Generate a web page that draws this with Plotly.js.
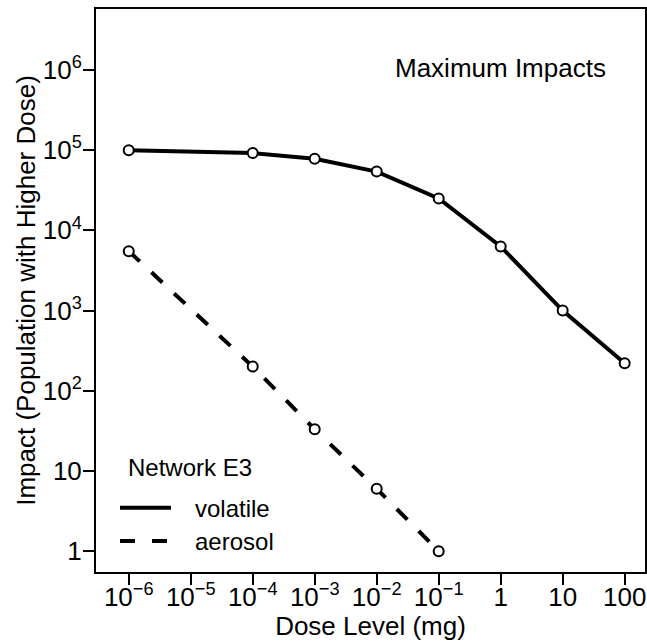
<!DOCTYPE html>
<html>
<head>
<meta charset="utf-8">
<script src="https://cdn.plot.ly/plotly-3.0.1.min.js"></script>
<style>
  html, body { margin: 0; padding: 0; background: #fff; }
  #chart { width: 647px; height: 641px; }
</style>
</head>
<body>
<div id="chart"></div>
<script>
// Dose levels (mg) and population impacts for network E3
const volatileDose = [1e-6, 1e-4, 1e-3, 1e-2, 1e-1, 1, 10, 100];
const volatileImpact = [100000, 92000, 78000, 54000, 25000, 6300, 1000, 220];

const aerosolDose = [1e-6, 1e-4, 1e-3, 1e-2, 1e-1];
const aerosolImpact = [5500, 200, 33, 6, 1];

const xTickVals = [1e-6, 1e-5, 1e-4, 1e-3, 1e-2, 1e-1, 1, 10, 100];
const xTickText = ['10<sup>\u22126</sup>', '10<sup>\u22125</sup>', '10<sup>\u22124</sup>',
                   '10<sup>\u22123</sup>', '10<sup>\u22122</sup>', '10<sup>\u22121</sup>',
                   '1', '10', '100'];
const yTickVals = [1, 10, 100, 1000, 10000, 100000, 1000000];
const yTickText = ['1', '10', '10<sup>2</sup>', '10<sup>3</sup>', '10<sup>4</sup>',
                   '10<sup>5</sup>', '10<sup>6</sup>'];

const seriesNames = ['volatile', 'aerosol'];
const legendTitle = 'Network E3';
const panelTitle = 'Maximum Impacts';

const FONT = 'Liberation Sans, Arial, Helvetica, sans-serif';
const marker = { symbol: 'circle', size: 10, color: '#ffffff', line: { color: '#000000', width: 2 } };

const traces = [
  {
    x: volatileDose, y: volatileImpact, name: seriesNames[0],
    type: 'scatter', mode: 'lines+markers',
    line: { color: '#000000', width: 4 },
    marker: marker, showlegend: false
  },
  {
    x: aerosolDose, y: aerosolImpact, name: seriesNames[1],
    type: 'scatter', mode: 'lines+markers',
    line: { color: '#000000', width: 4, dash: '15px,16px' },
    marker: marker, showlegend: false
  }
];

// Plot box: 96..645 px horizontally, 9..572 px vertically
const L = 96, T = 9, W = 549, H = 563;
const px = v => (v - L) / W;
const py = v => (T + H - v) / H;

const axisCommon = {
  type: 'log',
  showgrid: false, zeroline: false,
  showline: true, mirror: true, linecolor: '#000000', linewidth: 2,
  ticks: 'outside', ticklen: 11, tickwidth: 2, tickcolor: '#000000',
  tickmode: 'array',
  tickfont: { family: FONT, size: 26, color: '#000000' }
};

const layout = {
  width: 647, height: 641,
  margin: { l: L, r: 647 - L - W, t: T, b: 641 - T - H, pad: 0 },
  paper_bgcolor: '#ffffff', plot_bgcolor: '#ffffff',
  showlegend: false,
  xaxis: Object.assign({}, axisCommon, {
    range: [-6.528, 2.328],
    tickvals: xTickVals, ticktext: xTickText,
    ticklabelstandoff: -10,
    title: { text: 'Dose Level (mg)', font: { family: FONT, size: 26, color: '#000000' }, standoff: 0 }
  }),
  yaxis: Object.assign({}, axisCommon, {
    range: [-0.26, 6.76],
    tickvals: yTickVals, ticktext: yTickText,
    ticklabelstandoff: -4,
    title: { text: 'Impact (Population with Higher Dose)', font: { family: FONT, size: 26, color: '#000000' }, standoff: 0 }
  }),
  shapes: [
    { type: 'line', xref: 'paper', yref: 'paper', x0: px(120), x1: px(171), y0: py(507.7), y1: py(507.7),
      line: { color: '#000000', width: 4 } },
    { type: 'line', xref: 'paper', yref: 'paper', x0: px(120), x1: px(167), y0: py(541), y1: py(541),
      line: { color: '#000000', width: 4, dash: '15px,17px' } }
  ],
  annotations: [
    { text: panelTitle, xref: 'paper', yref: 'paper', x: px(393), y: py(67.5),
      xanchor: 'left', yanchor: 'middle', showarrow: false,
      font: { family: FONT, size: 26, color: '#000000' } },
    { text: legendTitle, xref: 'paper', yref: 'paper', x: px(126), y: py(467),
      xanchor: 'left', yanchor: 'middle', showarrow: false,
      font: { family: FONT, size: 24, color: '#000000' } },
    { text: seriesNames[0], xref: 'paper', yref: 'paper', x: px(193), y: py(508),
      xanchor: 'left', yanchor: 'middle', showarrow: false,
      font: { family: FONT, size: 24, color: '#000000' } },
    { text: seriesNames[1], xref: 'paper', yref: 'paper', x: px(193), y: py(541),
      xanchor: 'left', yanchor: 'middle', showarrow: false,
      font: { family: FONT, size: 24, color: '#000000' } }
  ]
};

Plotly.newPlot('chart', traces, layout, { displayModeBar: false, staticPlot: true });
</script>
</body>
</html>
